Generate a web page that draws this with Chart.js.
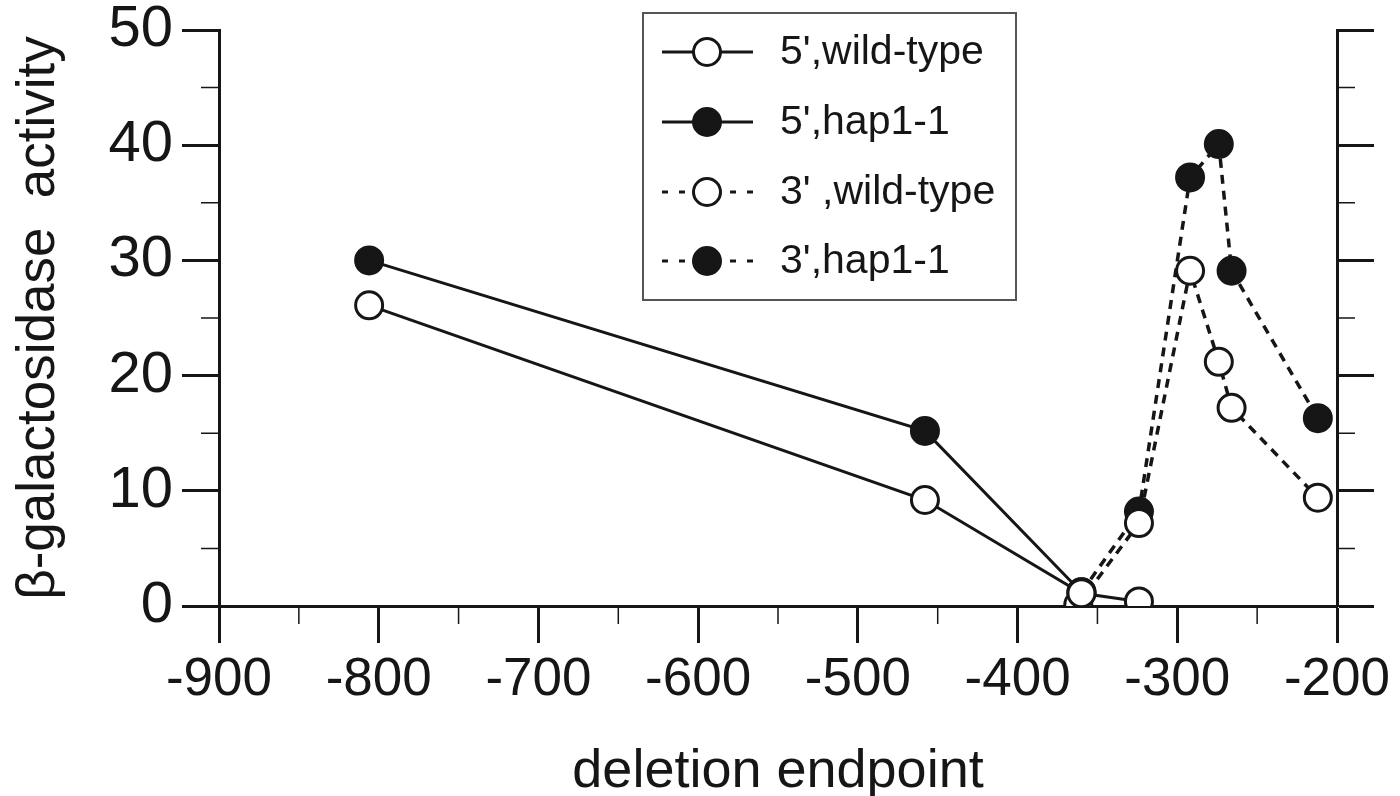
<!DOCTYPE html>
<html>
<head>
<meta charset="utf-8">
<script src="https://cdn.jsdelivr.net/npm/chart.js@4"></script>
<style>
  html, body { margin: 0; padding: 0; background: #fff; }
  #wrap { width: 1400px; height: 796px; }
</style>
</head>
<body>
<div id="wrap"><canvas id="chart"></canvas></div>
<script>
// values
const fivePrimeWtX = [-806, -458, -360, -324];
const fivePrimeWtY = [26.1, 9.2, 1.1, 0.4];
const fivePrimeHapX = [-806, -458, -360];
const fivePrimeHapY = [30.0, 15.2, 1.2];
const threePrimeWtX = [-362, -324, -292, -274, -266, -212];
const threePrimeWtY = [0.1, 7.2, 29.1, 21.2, 17.2, 9.4];
const threePrimeHapX = [-360, -324, -292, -274, -266, -212];
const threePrimeHapY = [1.2, 8.2, 37.2, 40.1, 29.1, 16.3];

const seriesLabels = ["5',wild-type", "5',hap1-1", "3' ,wild-type", "3',hap1-1"];
const xTickValues = [-900, -800, -700, -600, -500, -400, -300, -200];
const xMinorTicks = [-850, -750, -650, -550, -450, -350, -250];
const yTickValues = [0, 10, 20, 30, 40, 50];
const yMinorTicks = [5, 15, 25, 35, 45];

const INK = '#161616';
const FONT = '"Liberation Sans", Arial, Helvetica, sans-serif';

function pts(xs, ys) {
    return xs.map((x, i) => ({ x: x, y: ys[i] }));
}

function makeSeries(label, data, filled, dashed) {
    return {
        label: label,
        data: data,
        borderColor: INK,
        borderWidth: dashed ? 3.5 : 3,
        borderDash: dashed ? [9, 7] : [],
        pointRadius: 13.5,
        pointHoverRadius: 13.5,
        pointBorderWidth: 3,
        pointBorderColor: INK,
        pointBackgroundColor: filled ? INK : '#fff',
        fill: false,
        tension: 0
    };
}

// short minor ticks + boxed legend
const extrasPlugin = {
    id: 'extras',
    afterDraw(chart) {
        const ctx = chart.ctx;
        const x = chart.scales.x, y = chart.scales.y, y2 = chart.scales.y2;
        ctx.save();
        ctx.strokeStyle = INK;
        ctx.lineWidth = 1.5;
        ctx.beginPath();
        xMinorTicks.forEach(v => {
            const px = x.getPixelForValue(v);
            ctx.moveTo(px, x.top);
            ctx.lineTo(px, x.top + 18);
        });
        yMinorTicks.forEach(v => {
            const py = y.getPixelForValue(v);
            ctx.moveTo(y.right, py);
            ctx.lineTo(y.right - 18, py);
            ctx.moveTo(y2.left, py);
            ctx.lineTo(y2.left + 18, py);
        });
        ctx.stroke();

        // legend box
        const bx = 643, by = 13, bw = 373, bh = 287;
        ctx.fillStyle = '#fff';
        ctx.fillRect(bx, by, bw, bh);
        ctx.strokeStyle = '#555';
        ctx.lineWidth = 2;
        ctx.strokeRect(bx, by, bw, bh);

        const rows = [52, 122, 192, 261];
        chart.data.datasets.forEach((ds, i) => {
            const cy = rows[i];
            ctx.strokeStyle = INK;
            ctx.lineWidth = 3;
            ctx.setLineDash(ds.borderDash.length ? [6, 11] : []);
            ctx.beginPath();
            ctx.moveTo(662, cy);
            ctx.lineTo(753, cy);
            ctx.stroke();
            ctx.setLineDash([]);
            ctx.beginPath();
            ctx.arc(707, cy, 13.5, 0, Math.PI * 2);
            ctx.fillStyle = ds.pointBackgroundColor;
            ctx.fill();
            ctx.stroke();
            ctx.fillStyle = INK;
            ctx.font = '41px ' + FONT;
            ctx.textBaseline = 'middle';
            ctx.textAlign = 'left';
            ctx.fillText(ds.label, 780, cy + 1);
        });
        ctx.restore();
    }
};

const gridOpts = {
    drawOnChartArea: false,
    drawTicks: true,
    tickLength: 37,
    tickWidth: 3,
    tickColor: INK
};

new Chart(document.getElementById('chart').getContext('2d'), {
    type: 'line',
    data: {
        datasets: [
            makeSeries(seriesLabels[0], pts(fivePrimeWtX, fivePrimeWtY), false, false),
            makeSeries(seriesLabels[1], pts(fivePrimeHapX, fivePrimeHapY), true, false),
            makeSeries(seriesLabels[2], pts(threePrimeWtX, threePrimeWtY), false, true),
            makeSeries(seriesLabels[3], pts(threePrimeHapX, threePrimeHapY), true, true)
        ]
    },
    options: {
        responsive: true,
        maintainAspectRatio: false,
        animation: false,
        layout: { padding: { top: 30, left: 0, right: 0, bottom: 0 } },
        plugins: {
            legend: { display: false },
            tooltip: { enabled: false }
        },
        scales: {
            x: {
                type: 'linear',
                position: 'bottom',
                min: -900,
                max: -200,
                afterBuildTicks: s => { s.ticks = xTickValues.map(v => ({ value: v })); },
                afterFit: s => { s.height = 190; s.paddingLeft = 0; s.paddingRight = 0; },
                grid: gridOpts,
                border: { display: true, color: INK, width: 3 },
                ticks: {
                    color: INK,
                    font: { family: FONT, size: 53 },
                    padding: 6,
                    maxRotation: 0
                },
                title: {
                    display: true,
                    text: 'deletion endpoint',
                    color: INK,
                    font: { family: FONT, size: 54, lineHeight: 0.9 },
                    padding: { top: 0, bottom: 0 }
                }
            },
            y: {
                type: 'linear',
                position: 'left',
                min: 0,
                max: 50,
                afterBuildTicks: s => { s.ticks = yTickValues.map(v => ({ value: v })); },
                afterFit: s => { s.width = 219; s.paddingTop = 0; s.paddingBottom = 0; },
                grid: gridOpts,
                border: { display: true, color: INK, width: 3 },
                ticks: {
                    color: INK,
                    font: { family: FONT, size: 58 },
                    padding: 9
                },
                title: {
                    display: true,
                    text: 'β-galactosidase  activity',
                    color: INK,
                    font: { family: FONT, size: 53 },
                    padding: { top: 8, bottom: 0 }
                }
            },
            y2: {
                type: 'linear',
                position: 'right',
                min: 0,
                max: 50,
                afterBuildTicks: s => { s.ticks = yTickValues.map(v => ({ value: v })); },
                afterFit: s => { s.width = 63; s.paddingTop = 0; s.paddingBottom = 0; },
                grid: gridOpts,
                border: { display: true, color: INK, width: 3 },
                ticks: { display: false }
            }
        }
    },
    plugins: [extrasPlugin]
});
</script>
</body>
</html>
